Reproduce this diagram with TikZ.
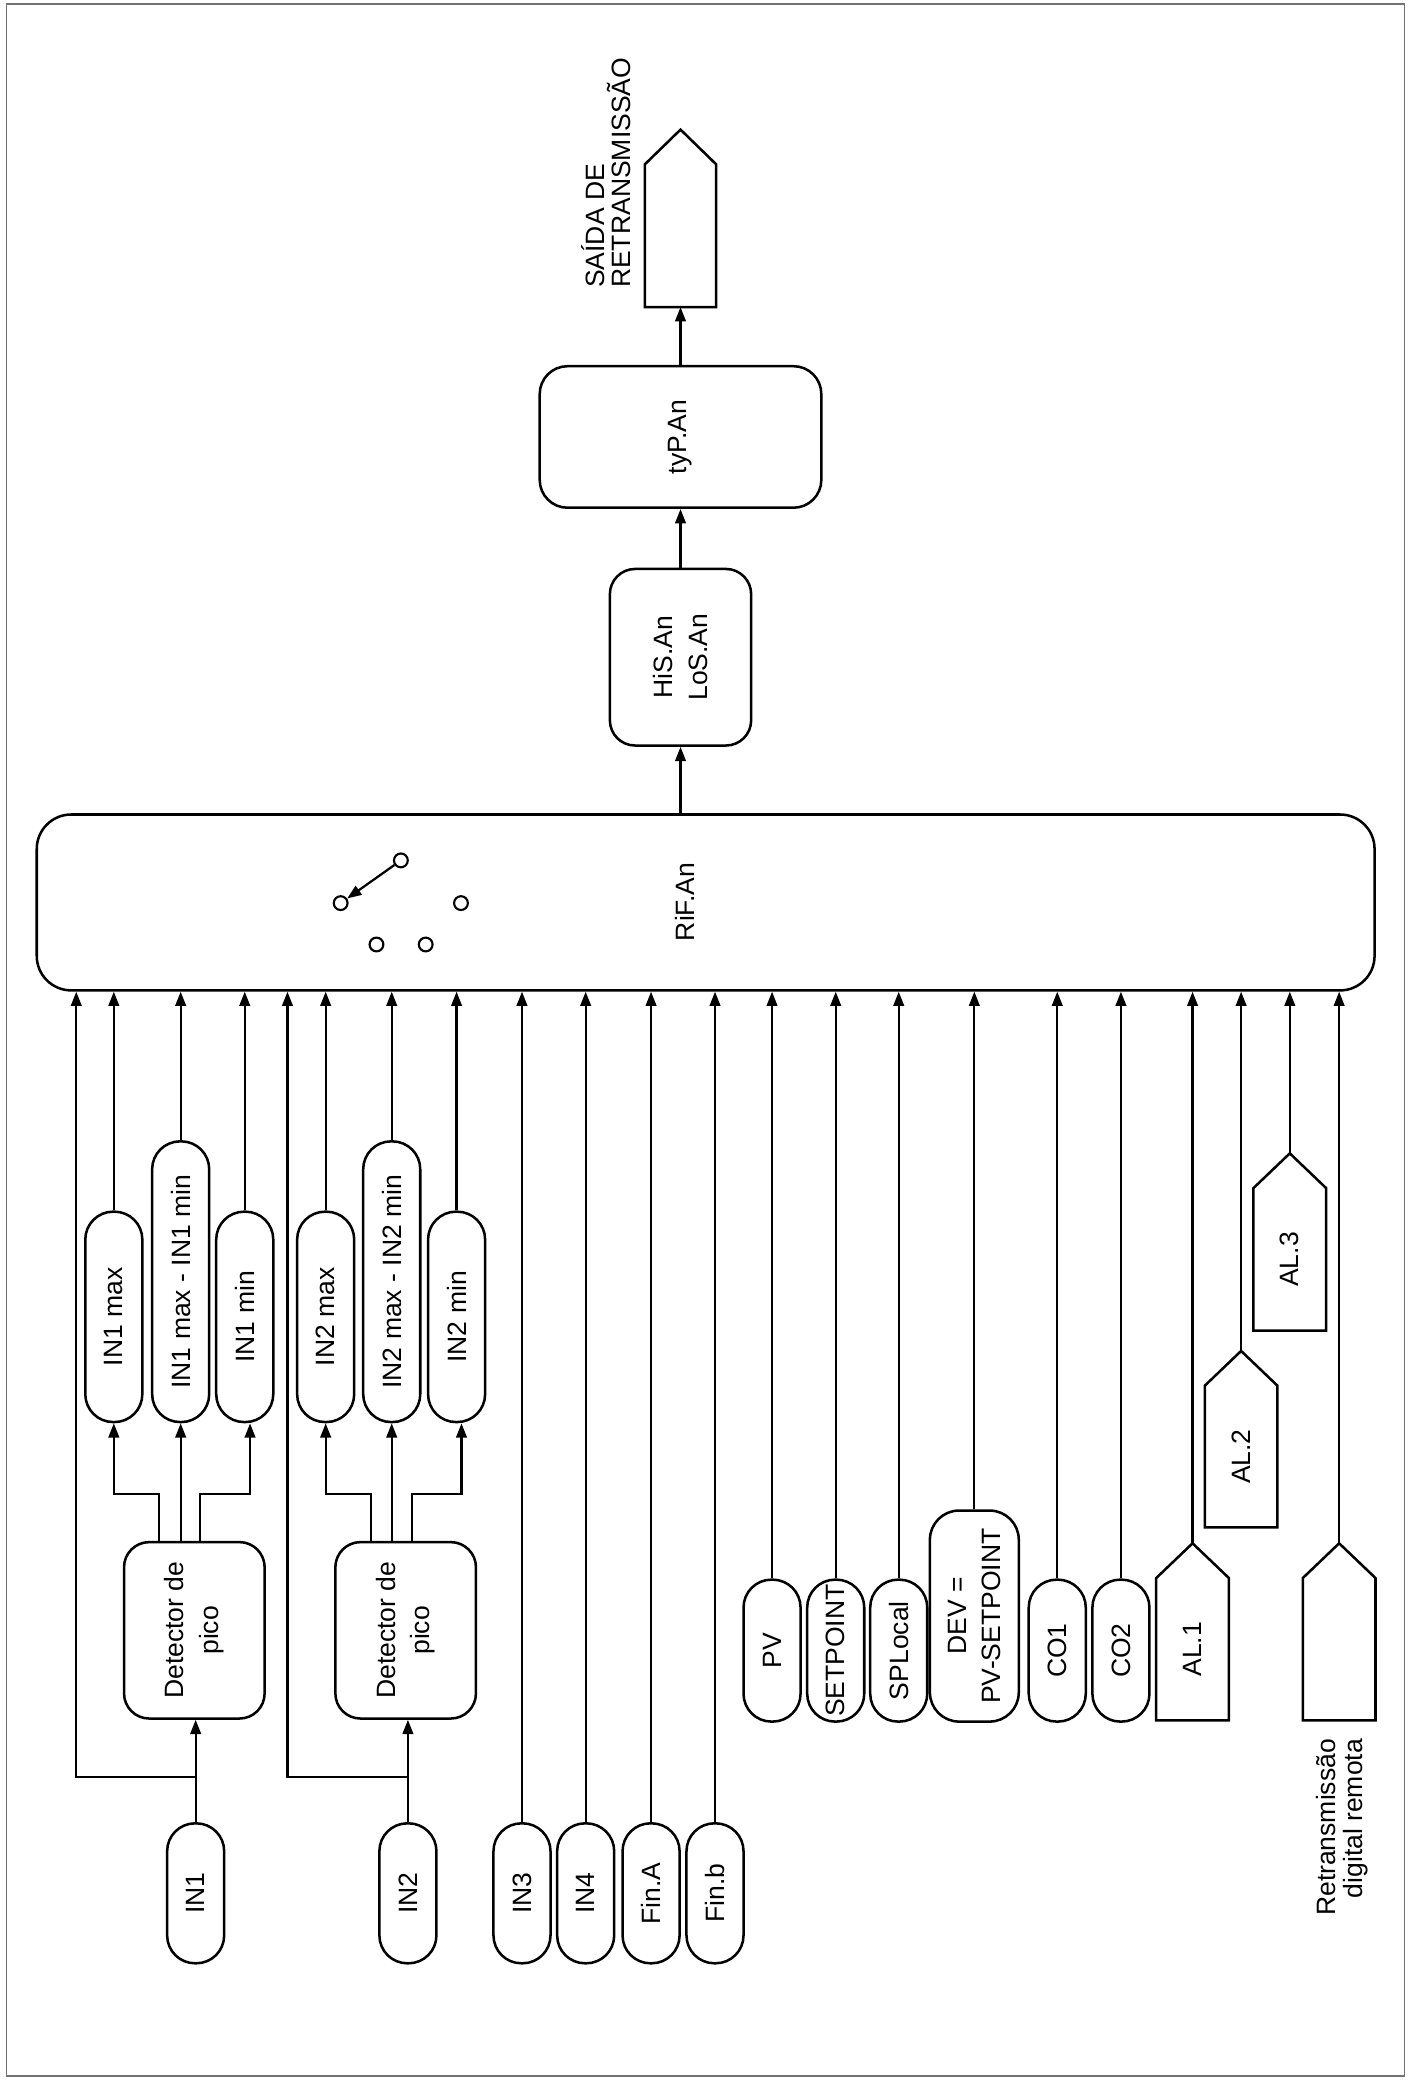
\documentclass[tikz,border=0pt]{standalone}
\usepackage{fontspec}
\setmainfont{Liberation Sans}
\usepackage{graphicx}
\usetikzlibrary{arrows.meta,calc}

\newcommand{\rt}[1]{\rotatebox{90}{#1}}
\newcommand{\rotc}[2]{\rotatebox{90}{\vbox{\baselineskip=#1\lineskiplimit=-\maxdimen\lineskip=0pt\halign{\hfil##\hfil\cr#2\crcr}}}}
\newcommand{\rotl}[2]{\rotatebox{90}{\vbox{\baselineskip=#1\lineskiplimit=-\maxdimen\lineskip=0pt\halign{##\hfil\cr#2\crcr}}}}
\newcommand{\rotr}[2]{\rotatebox{90}{\vbox{\baselineskip=#1\lineskiplimit=-\maxdimen\lineskip=0pt\halign{\hfil##\cr#2\crcr}}}}
\newcommand{\pentdraw}[1]{%
  \draw[shp] (#1.south west) -- (#1.north west) -- ([yshift=13.1pt]#1.north) -- (#1.north east) -- (#1.south east) -- cycle;
  \coordinate (#1-tip) at ([yshift=13.1pt]#1.north);}

\tikzset{
  every node/.style={font=\fontsize{10}{13}\selectfont},
  ln/.style={line width=0.85pt},
  arr/.style={line width=0.85pt,-{Triangle[length=5.4pt,width=4pt]}},
  shp/.style={line width=0.95pt,line join=miter},
  box/.style={draw,line width=0.95pt,rectangle,inner sep=0pt},
  pill/.style={box,rounded corners=10.5pt,minimum width=21.5pt},
  pillB/.style={pill,minimum height=52.75pt},
  pillS/.style={pill,minimum height=79.3pt},
  pillL/.style={pill,minimum height=105.8pt},
  pillR/.style={pill,minimum height=53.5pt},
  rbox/.style={box,rounded corners=9.5pt},
  body/.style={rectangle,inner sep=0pt,minimum width=27pt},
  sw/.style={circle,draw,line width=0.8pt,minimum size=5.2pt,inner sep=0pt},
  frm/.style={draw=black!55,line width=0.5pt},
}

\begin{document}
\begin{tikzpicture}[x=0.5pt,y=-0.5pt]
\useasboundingbox (0,0) rectangle (1066,1568);
\draw[frm] (5,3) rectangle (1059,1565);

% ---------- top chain ----------
\node[body,minimum width=26.5pt,minimum height=53.4pt] (out) at (513,177.7) {};
\pentdraw{out}
\node[inner sep=0pt,anchor=south east] (outlbl) at (476.2,217.4)
  {\rotl{10pt}{SAÍDA DE\cr RETRANSMISSÃO}};
\node[rbox,rounded corners=10.5pt,minimum width=106.15pt,minimum height=53.35pt] (typ) at (513,329.4) {\rt{tyP.An}};
\node[rbox,minimum width=53.25pt,minimum height=66.55pt] (HiS) at (513,495.45) {\rotc{13pt}{HiS.An\cr LoS.An}};

% ---------- main selector ----------
\node[box,rounded corners=13pt,minimum width=504.25pt,minimum height=66.3pt] (RiF) at (531.95,680.3) {};
\node[inner sep=0pt] (riflbl) at (516.5,680) {\rt{RiF.An}};
\node[sw] (s1) at (302.2,648.6) {};
\node[sw] (s2) at (256.8,680.8) {};
\node[sw] (s3) at (347.5,680.8) {};
\node[sw] (s4) at (283.8,712) {};
\node[sw] (s5) at (320.9,712) {};
\draw[arr] (s1) -- (s2);

\draw[arr] (RiF.north -| HiS.south) -- (HiS.south);
\draw[arr] (HiS.north) -- (typ.south);
\draw[arr] (typ.north) -- (out.south);

% ---------- input pills ----------
\node[pillB] (IN1) at (147.5,1427.25) {\rt{IN1}};
\node[pillB] (IN2) at (307.5,1427.25) {\rt{IN2}};
\node[pillB] (IN3) at (393.5,1427.25) {\rt{IN3}};
\node[pillB] (IN4) at (441.5,1427.25) {\rt{IN4}};
\node[pillB] (FinA) at (490.8,1427.25) {\rt{Fin.A}};
\node[pillB] (Finb) at (539,1427.25) {\rt{Fin.b}};

% ---------- peak detectors ----------
\node[rbox,minimum width=53pt,minimum height=66.5pt] (D1) at (146.5,1229) {\rotc{13pt}{Detector de\cr pico}};
\node[rbox,minimum width=53pt,minimum height=66.5pt] (D2) at (305.8,1229) {\rotc{13pt}{Detector de\cr pico}};

\node[pillS] (IN1max) at (85.8,992.7) {\rt{IN1 max}};
\node[pillL] (IN1mm) at (136.2,966.2) {\rt{IN1 max - IN1 min}};
\node[pillS] (IN1min) at (184.5,992.7) {\rt{IN1 min}};
\node[pillS] (IN2max) at (245.5,992.7) {\rt{IN2 max}};
\node[pillL] (IN2mm) at (295.3,966.2) {\rt{IN2 max - IN2 min}};
\node[pillS] (IN2min) at (344.2,992.7) {\rt{IN2 min}};

\coordinate (j1) at (147.5,1339.4);
\coordinate (k1) at (57.5,1339.4);
\coordinate (j2) at (307.5,1339.4);
\coordinate (k2) at (216.7,1339.4);

\draw[arr] (IN1.north) -- (IN1.north |- D1.south);
\draw[arr] (j1) -- (k1) -- (k1 |- RiF.south);
\draw[arr] ([xshift=-13.25pt]D1.north) -- ++(0,-35.5) -| (IN1max.south);
\draw[arr] (IN1mm.south |- D1.north) -- (IN1mm.south);
\draw[arr] ([xshift=2.25pt]D1.north) -- ++(0,-35.5) -| ([xshift=2pt]IN1min.south);

\draw[arr] (IN2.north) -- (IN2.north |- D2.south);
\draw[arr] (j2) -- (k2) -- (k2 |- RiF.south);
\draw[arr] ([xshift=-13.15pt]D2.north) -- ++(0,-35.5) -| (IN2max.south);
\draw[arr] (IN2mm.south |- D2.north) -- (IN2mm.south);
\draw[arr] ([xshift=2.5pt]D2.north) -- ++(0,-35.5) -| ([xshift=1.85pt]IN2min.south);

% ---------- other sources ----------
\node[pillR] (PV) at (582,1244.3) {\rt{PV}};
\node[pillR] (SP) at (630,1244.3) {\rt{SETPOINT}};
\node[pillR] (SPL) at (677.5,1244.3) {\rt{SPLocal}};
\node[box,rounded corners=11pt,minimum width=33.5pt,minimum height=79.55pt] (DEV) at (734.5,1218.25) {\rotc{13pt}{DEV =\cr PV-SETPOINT}};
\node[pillR] (CO1) at (797,1244.3) {\rt{CO1}};
\node[pillR] (CO2) at (845,1244.3) {\rt{CO2}};

\node[body,minimum height=53.2pt] (AL1) at (899,1243.2) {\rt{AL.1}};
\pentdraw{AL1}
\node[body,minimum height=53pt] (AL2) at (935.6,1098) {\rt{AL.2}};
\pentdraw{AL2}
\node[body,minimum height=53.35pt] (AL3) at (972.3,949.4) {\rt{AL.3}};
\pentdraw{AL3}
\node[body,minimum height=53.2pt] (RT) at (1009.5,1243.2) {};
\pentdraw{RT}
\node[inner sep=0pt,anchor=north east] (rtlbl) at (1031.5,1310.5)
  {\rotr{10pt}{Retransmissão\cr digital remota}};

% ---------- connectors into RiF.An ----------
\foreach \n in {IN1max,IN1mm,IN1min,IN2max,IN2mm,IN2min,IN3,IN4,FinA,Finb,PV,SP,SPL,DEV,CO1,CO2}
  \draw[arr] (\n.north) -- (\n.north |- RiF.south);
\foreach \n in {AL1,AL2,AL3,RT}
  \draw[arr] (\n-tip) -- (\n-tip |- RiF.south);
\end{tikzpicture}
\end{document}
